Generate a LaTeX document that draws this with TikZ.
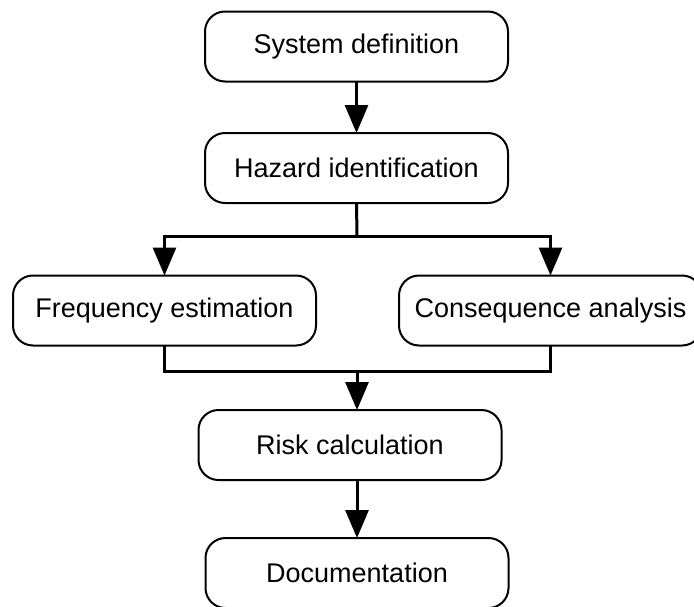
\documentclass[tikz,border=0pt]{standalone}
\usepackage{fontspec}
\setmainfont{Liberation Sans}
\usetikzlibrary{arrows.meta}
\begin{document}
\begin{tikzpicture}[x=1pt,y=1pt,
  stepbox/.style={draw=black, line width=2pt, rounded corners=20pt, fill=white,
    minimum width=303pt, minimum height=70pt, inner sep=0pt, outer sep=0pt,
    font=\fontsize{27}{32}\selectfont},
  conn/.style={draw=black, line width=3pt},
  arr/.style={conn, -{Triangle[width=23pt,length=28pt]}}]
\useasboundingbox (0,0) rectangle (694,-606);
\node[stepbox] (sys)  at (356.5,-46.5) {System definition};
\node[stepbox] (haz)  at (356.5,-168)  {Hazard identification};
\node[stepbox] (freq) at (164.5,-310.5) {Frequency estimation};
\node[stepbox] (cons) at (550.5,-310.5) {Consequence analysis};
\node[stepbox] (risk) at (350,-445)    {Risk calculation};
\node[stepbox] (doc)  at (357,-573)    {Documentation};
\coordinate (split) at (357,-236);
\coordinate (merge) at (357,-371);
\draw[arr] (sys.south) -- (haz.north);
\draw[conn] (haz.south) -- (split);
\draw[arr] (split) -| (freq.north);
\draw[arr] (split) -| (cons.north);
\draw[conn] (freq.south) |- (merge) -| (cons.south);
\draw[arr] (merge) -- (risk.north -| merge);
\draw[arr] (risk.south -| doc.north) -- (doc.north);
\end{tikzpicture}
\end{document}
